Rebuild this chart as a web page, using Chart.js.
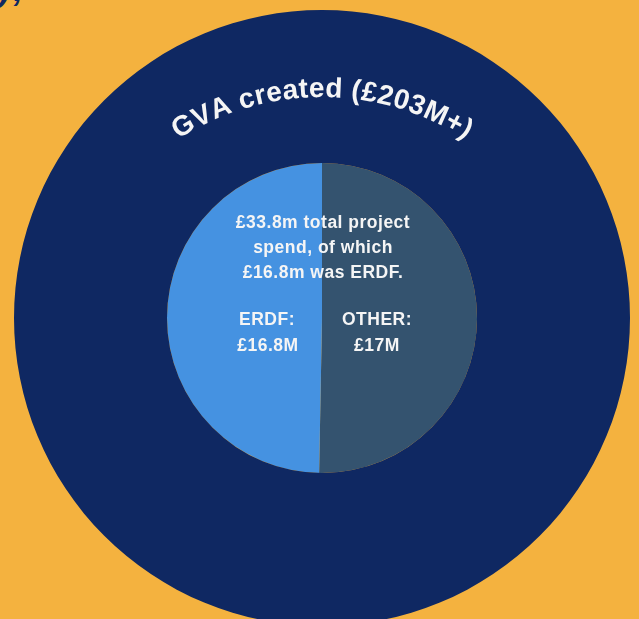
<!DOCTYPE html>
<html>
<head>
<meta charset="utf-8">
<script src="https://cdn.jsdelivr.net/npm/chart.js@4.4.1/dist/chart.umd.min.js"></script>
<style>
  html, body { margin: 0; padding: 0; }
  body { width: 639px; height: 619px; overflow: hidden; background: #f4b23f; position: relative; }
  #wrap { position: absolute; left: 14px; top: 10px; width: 616px; height: 616px; }
  #peek { position: absolute; left: -4px; top: -30px; font: italic bold 34px "Liberation Sans", Arial, sans-serif; color: #0f2862; }
</style>
</head>
<body>
<div id="peek">y,</div>
<div id="wrap"><canvas id="chart"></canvas></div>
<script>
// data
const gvaLabels = ['GVA created'];
const gvaValues = [203];          // £M+
const spendLabels = ['OTHER', 'ERDF'];
const spendValues = [17, 16.8];   // £M
const totalSpend = 33.8;

const navy = '#0f2862';
const spendColors = ['#34536f', '#4592e1'];
const txt = '#f5f5f5';
const font = '"Liberation Sans", Arial, sans-serif';

// curved title + text inside the pie
const labelsPlugin = {
  id: 'labels',
  afterDraw(chart) {
    const ctx = chart.ctx;
    const a = chart.chartArea;
    const cx = (a.left + a.right) / 2;
    const cy = (a.top + a.bottom) / 2;

    // title along an arc
    const title = `${gvaLabels[0]} (£${gvaValues[0]}M+)`;
    const r = 266;
    const acy = cy + 45;
    ctx.save();
    ctx.font = `bold 28px ${font}`;
    ctx.fillStyle = txt;
    ctx.textAlign = 'center';
    ctx.textBaseline = 'alphabetic';
    const sp = 0.4;
    const widths = [...title].map(ch => ctx.measureText(ch).width);
    const total = widths.reduce((s, w) => s + w, 0) + sp * (widths.length - 1);
    let ang = -total / 2 / r;
    [...title].forEach((ch, i) => {
      const w = widths[i];
      const mid = ang + (w / 2) / r;
      ctx.save();
      ctx.translate(cx + r * Math.sin(mid), acy - r * Math.cos(mid));
      ctx.rotate(mid);
      ctx.fillText(ch, 0, 0);
      ctx.restore();
      ang += (w + sp) / r;
    });
    ctx.restore();

    // centre text
    ctx.save();
    ctx.font = `bold 17.5px ${font}`;
    ctx.letterSpacing = '0.5px';
    ctx.fillStyle = txt;
    ctx.textAlign = 'center';
    ctx.textBaseline = 'middle';
    const lines = [
      `£${totalSpend}m total project`,
      'spend, of which',
      `£${spendValues[1]}m was ERDF.`
    ];
    lines.forEach((l, i) => ctx.fillText(l, cx + 1, cy - 95 + i * 25));
    ctx.fillText(spendLabels[1] + ':', cx - 55, cy + 2);
    ctx.fillText(`£${spendValues[1]}M`, cx - 54, cy + 28);
    ctx.fillText(spendLabels[0] + ':', cx + 55, cy + 2);
    ctx.fillText(`£${spendValues[0]}M`, cx + 55, cy + 28);
    ctx.restore();
  }
};

new Chart(document.getElementById('chart'), {
  type: 'pie',
  data: {
    labels: spendLabels,
    datasets: [
      {
        data: gvaValues,
        backgroundColor: [navy],
        weight: 153
      },
      {
        data: spendValues,
        backgroundColor: spendColors,
        weight: 155
      }
    ]
  },
  options: {
    responsive: true,
    maintainAspectRatio: false,
    animation: false,
    layout: { padding: 0 },
    elements: { arc: { borderWidth: 0, hoverBorderWidth: 0, offset: 0, hoverOffset: 0 } },
    plugins: {
      legend: { display: false },
      tooltip: { enabled: false }
    }
  },
  plugins: [labelsPlugin]
});
</script>
</body>
</html>
